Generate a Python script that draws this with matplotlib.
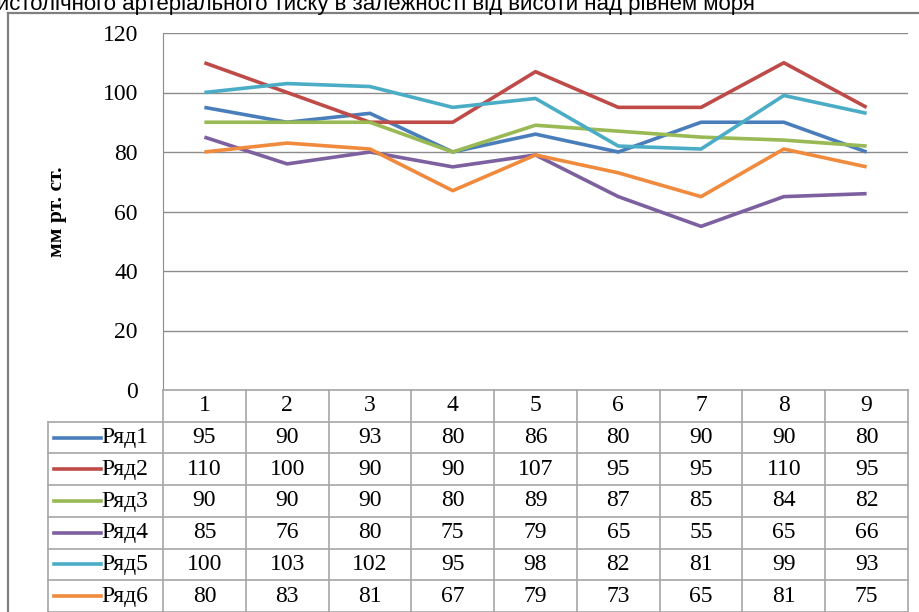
import matplotlib
matplotlib.use('Agg')
import matplotlib.pyplot as plt
from matplotlib.lines import Line2D

# дані: систолічний тиск по точках спостереження
points = [1, 2, 3, 4, 5, 6, 7, 8, 9]
series_names = ['Ряд1', 'Ряд2', 'Ряд3', 'Ряд4', 'Ряд5', 'Ряд6']
row1 = [95, 90, 93, 80, 86, 80, 90, 90, 80]
row2 = [110, 100, 90, 90, 107, 95, 95, 110, 95]
row3 = [90, 90, 90, 80, 89, 87, 85, 84, 82]
row4 = [85, 76, 80, 75, 79, 65, 55, 65, 66]
row5 = [100, 103, 102, 95, 98, 82, 81, 99, 93]
row6 = [80, 83, 81, 67, 79, 73, 65, 81, 75]
y_ticks = [0, 20, 40, 60, 80, 100, 120]

title = 'Зміни систолічного артеріального тиску в залежності від висоти над рівнем моря'
ylabel = 'мм рт. ст.'

rows = [row1, row2, row3, row4, row5, row6]
colors = ['#4A7EBB', '#BE4B48', '#98B954', '#7D60A0', '#4BACC6', '#F08A3C']
grid_c = '#8C8C8C'
table_c = '#A6A6A6'
fs = 17

plt.rcParams['font.family'] = ['Liberation Serif', 'DejaVu Serif']

W, H = 920, 612
fig = plt.figure(figsize=(W / 100, H / 100), dpi=100)


def fx(px):
    return px / W


def fy(py):
    return 1 - py / H


# заголовок (верхня частина виходить за межі рисунка)
fig.text(fx(755), fy(10), title, ha='right', va='baseline', fontsize=16,
         family=['Liberation Sans', 'DejaVu Sans'], color='#000000')

# рамка області діаграми
fig.add_artist(Line2D([fx(8), fx(8)], [fy(13), fy(H)], color='#7F7F7F', lw=1.6))
fig.add_artist(Line2D([fx(8), fx(W)], [fy(13), fy(13)], color='#7F7F7F', lw=1.6))

left, right, top, zero = 163, 908, 33, 390
ax = fig.add_axes([fx(left), fy(zero), fx(right - left), (zero - top) / H])
for name, vals, c in zip(series_names, rows, colors):
    ax.plot(points, vals, color=c, lw=2.6, solid_capstyle='butt', label=name)
ax.set_xlim(0.5, 9.5)
ax.set_ylim(0, 120)
ax.set_yticks(y_ticks)
ax.set_xticks([])
ax.yaxis.grid(True, color=grid_c, lw=1.0)
ax.set_axisbelow(True)
for s in ['top', 'right', 'bottom']:
    ax.spines[s].set_visible(False)
ax.spines['left'].set_color(grid_c)
ax.tick_params(axis='y', length=0, pad=18, labelsize=fs)
fig.text(fx(57), fy((top + zero) / 2), ylabel, rotation=90, ha='center', va='center',
         fontsize=15.5, fontweight='bold')

# таблиця даних під віссю X
tab = fig.add_axes([fx(left), 0, fx(right - left), (H - zero) / H])
tab.set_xlim(0.5, 9.5)
tab.set_ylim(7.0, 0)
tab.axis('off')
col_w = (right - left) / len(points)
x_lab = 0.5 - (left - 48) / col_w

tab.plot([0.5, 9.5], [0, 0], color=table_c, lw=1.2, clip_on=False)
for r in range(1, 8):
    tab.plot([x_lab, 9.5], [r, r], color=table_c, lw=1.2, clip_on=False)
for k in range(len(points) + 1):
    tab.plot([0.5 + k, 0.5 + k], [0, 7], color=table_c, lw=1.2, clip_on=False)
tab.plot([x_lab, x_lab], [1, 7], color=table_c, lw=1.2, clip_on=False)

for p in points:
    tab.text(p, 0.5, str(p), ha='center', va='center', fontsize=fs)
for i, (name, vals, c) in enumerate(zip(series_names, rows, colors)):
    yc = i + 1.5
    tab.plot([0.5 - (left - 54) / col_w, 0.5 - (left - 101) / col_w], [yc, yc],
             color=c, lw=2.6, clip_on=False)
    tab.text(0.5 - (left - 101) / col_w, yc, name, ha='left', va='center', fontsize=fs)
    for p, v in zip(points, vals):
        tab.text(p, yc, str(v), ha='center', va='center', fontsize=fs)

fig.savefig('out.png', dpi=100)
